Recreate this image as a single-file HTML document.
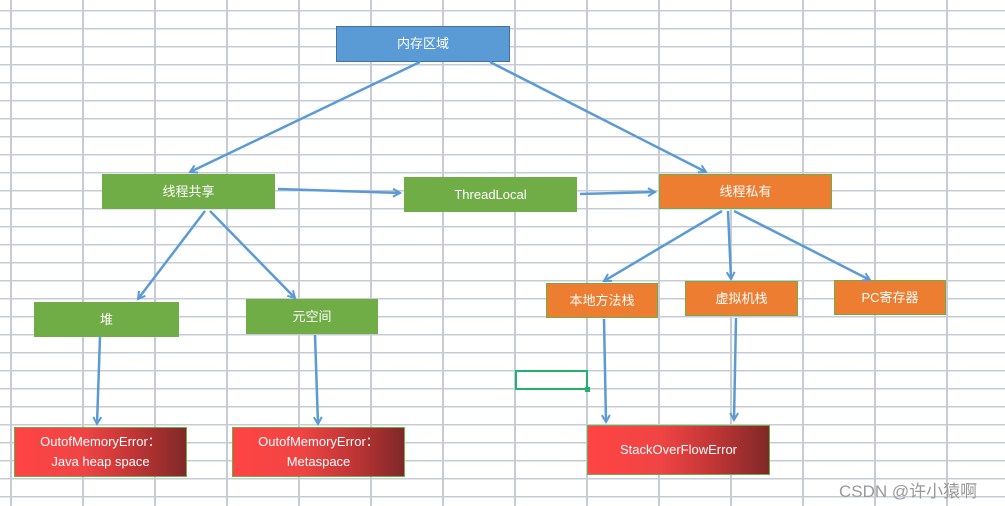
<!DOCTYPE html>
<html><head><meta charset="utf-8"><style>
body{margin:0;width:1005px;height:506px;overflow:hidden;position:relative;background:#fff;
background-image:repeating-linear-gradient(90deg,transparent 0 10px,#c6cbd5 10px 12px,transparent 12px 72px),repeating-linear-gradient(180deg,transparent 0 10px,#c6cbd5 10px 11.5px,transparent 11.5px 18px);
font-family:"Liberation Sans","Noto Sans CJK SC",sans-serif;}
.b{position:absolute;box-sizing:border-box;color:#fff;font-size:13px;display:flex;align-items:center;justify-content:center;text-align:center;line-height:20px}
.g{background:#70ad47;border:1px solid #70ad47}
.o{background:#ed7d31;border:1px solid #70ad47}
.r{background:linear-gradient(90deg,#ff4444 0%,#f04444 40%,#c03535 70%,#802828 100%);border:1px solid #70ad47}
svg{position:absolute;left:0;top:0}
</style></head><body>
<div class="b" style="left:336px;top:26px;width:174px;height:36px;background:#5b9bd5;border:1px solid #41719c">内存区域</div>
<div class="b g" style="left:102px;top:174px;width:173px;height:35px">线程共享</div>
<div class="b g" style="left:404px;top:177px;width:173px;height:35px">ThreadLocal</div>
<div class="b o" style="left:659px;top:174px;width:173px;height:35px">线程私有</div>
<div class="b g" style="left:34px;top:302px;width:145px;height:35px">堆</div>
<div class="b g" style="left:246px;top:299px;width:132px;height:35px">元空间</div>
<div class="b o" style="left:546px;top:283px;width:112px;height:35px">本地方法栈</div>
<div class="b o" style="left:685px;top:281px;width:113px;height:35px">虚拟机栈</div>
<div class="b o" style="left:834px;top:280px;width:112px;height:35px">PC寄存器</div>
<div class="b r" style="left:14px;top:427px;width:173px;height:50px">OutofMemoryError：<br>Java heap space</div>
<div class="b r" style="left:232px;top:427px;width:173px;height:50px">OutofMemoryError：<br>Metaspace</div>
<div class="b r" style="left:587px;top:425px;width:183px;height:50px">StackOverFlowError</div>
<div style="position:absolute;left:515px;top:370px;width:73px;height:20px;box-sizing:border-box;border:2px solid #21b26b"></div>
<div style="position:absolute;left:585px;top:387px;width:5px;height:5px;background:#21b26b"></div>
<div style="position:absolute;left:839px;top:477px;font-size:17px;color:#999">CSDN @许小猿啊</div>
<svg width="1005" height="506"><defs><marker id="a" markerWidth="10" markerHeight="10" refX="8" refY="5" orient="auto" markerUnits="userSpaceOnUse"><path d="M1,1 L8,5 L1,9" fill="none" stroke="#5b9bd5" stroke-width="2"/></marker></defs>
<g stroke="#5b9bd5" stroke-width="2.5" fill="none" marker-end="url(#a)">
<line x1="420" y1="62" x2="190" y2="172"/>
<line x1="490" y1="62" x2="706" y2="172"/>
<line x1="278" y1="189" x2="400" y2="193"/>
<line x1="580" y1="194" x2="655" y2="192"/>
<line x1="205" y1="211" x2="138" y2="299"/>
<line x1="210" y1="211" x2="295" y2="298"/>
<line x1="722" y1="211" x2="604" y2="281"/>
<line x1="728" y1="211" x2="731" y2="279"/>
<line x1="734" y1="211" x2="870" y2="280"/>
<line x1="100" y1="337" x2="97" y2="424"/>
<line x1="315" y1="335" x2="318" y2="424"/>
<line x1="604" y1="319" x2="606" y2="422"/>
<line x1="736" y1="318" x2="734" y2="420"/>
</g></svg>
</body></html>
